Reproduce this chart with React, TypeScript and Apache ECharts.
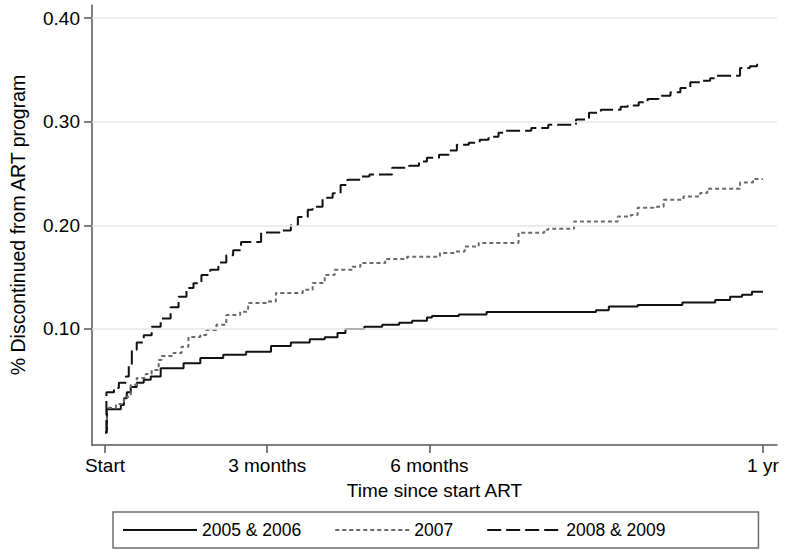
import React, { useEffect, useRef } from "react";
import * as echarts from "echarts";

// Time in days since start of ART, cumulative proportion discontinued
const days0506 = [0, 1.1, 8.8, 10.5, 12.1, 14.3, 17.6, 21.5, 25.4, 30.9, 43.6, 52.9, 65.6, 78.3, 92.1, 103.1, 113.6, 121.9, 129, 133.4, 143.9, 153.8, 163.2, 170.4, 178.6, 181.4, 196.3, 211.7, 272.4, 279.5, 295.5, 320.3, 338.5, 346.8, 353.4, 358.9, 365];
const vals0506 = [0, 0.0225, 0.0266, 0.033, 0.039, 0.044, 0.048, 0.051, 0.054, 0.062, 0.067, 0.072, 0.075, 0.078, 0.0836, 0.087, 0.09, 0.092, 0.096, 0.1, 0.102, 0.104, 0.106, 0.108, 0.111, 0.1125, 0.114, 0.1164, 0.118, 0.1216, 0.123, 0.1254, 0.128, 0.131, 0.133, 0.136, 0.136];

const days2007 = [0, 1.1, 6.1, 10.5, 14.3, 17.6, 22.6, 25.9, 29.8, 31.4, 38, 42.5, 46.3, 52.9, 56.2, 61.8, 67.3, 75, 79.4, 89.3, 94.8, 109.7, 115.2, 121.9, 127.4, 137.3, 141.7, 155.5, 167.6, 185.8, 194.1, 199.6, 207.3, 229.4, 243.7, 245.9, 260.2, 284.5, 291.7, 295.5, 304.3, 309.9, 320.9, 330.2, 334.1, 352.3, 359.5, 365];
const vals2007 = [0, 0.024, 0.0275, 0.0346, 0.046, 0.0527, 0.0565, 0.0604, 0.07, 0.0739, 0.0768, 0.0829, 0.0923, 0.0942, 0.099, 0.104, 0.1135, 0.1167, 0.125, 0.1264, 0.1348, 0.1377, 0.1444, 0.152, 0.157, 0.16, 0.1636, 0.1676, 0.1696, 0.1734, 0.1747, 0.1795, 0.183, 0.1928, 0.1957, 0.1966, 0.2037, 0.2085, 0.21, 0.217, 0.218, 0.2246, 0.2278, 0.2311, 0.2353, 0.2414, 0.2446, 0.2446];

const days0809 = [0, 0.8, 5, 7.7, 11.6, 13.2, 14.9, 17.6, 21.5, 25.9, 30.9, 36.4, 40.8, 45.2, 49.1, 53.5, 58.4, 62.9, 67.3, 71.1, 75.5, 86.6, 97, 103.1, 107, 112.5, 115.2, 120.7, 126.3, 130.7, 134.5, 141.7, 146.7, 159.3, 168.7, 174.2, 178.6, 185.3, 190.8, 195.2, 201.8, 207.9, 212.8, 218.3, 221.6, 236.5, 245.9, 261.3, 268.5, 275.1, 286.1, 290, 296.1, 301, 307.1, 313.7, 319.2, 324.7, 330.2, 335.7, 338.5, 352.3, 357.8, 361.7, 365];
const vals0809 = [0, 0.039, 0.043, 0.048, 0.054, 0.065, 0.08, 0.087, 0.094, 0.102, 0.11, 0.121, 0.131, 0.1396, 0.144, 0.152, 0.157, 0.164, 0.171, 0.176, 0.184, 0.193, 0.195, 0.2, 0.208, 0.215, 0.218, 0.2265, 0.231, 0.239, 0.244, 0.247, 0.249, 0.2555, 0.2575, 0.2615, 0.2652, 0.268, 0.2723, 0.2778, 0.2797, 0.2826, 0.2855, 0.2894, 0.2913, 0.294, 0.297, 0.302, 0.3087, 0.3116, 0.3145, 0.3157, 0.3187, 0.322, 0.325, 0.3283, 0.3325, 0.338, 0.3396, 0.342, 0.3444, 0.3519, 0.3535, 0.355, 0.355];

const seriesNames = ["2005 & 2006", "2007", "2008 & 2009"];
const xTickValues = [0, 90, 180, 365];
const xTickLabels = ["Start", "3 months", "6 months", "1 yr"];
const yTickValues = [0.1, 0.2, 0.3, 0.4];

const FONT = "'Liberation Sans', Arial, Helvetica, sans-serif";

const zip = (xs: number[], ys: number[]) => xs.map((x, i) => [x, ys[i]]);

export default function App() {
  const ref = useRef<HTMLDivElement>(null);
  useEffect(() => {
    document.body.style.margin = "0";
    const chart = echarts.init(ref.current!, null, { renderer: "svg" });
    chart.setOption({
      animation: false,
      backgroundColor: "#fff",
      grid: { left: 88, right: 8, top: 5, bottom: 112, containLabel: false },
      xAxis: {
        type: "value",
        min: -7.2,
        max: 372.8,
        name: "Time since start ART",
        nameLocation: "middle",
        nameGap: 36,
        nameTextStyle: { fontFamily: FONT, fontSize: 19, color: "#000" },
        axisLine: { show: true, onZero: false, lineStyle: { color: "#555", width: 1.5 } },
        axisTick: { show: true, length: 8, customValues: xTickValues, lineStyle: { color: "#555", width: 1.5 } },
        axisLabel: {
          customValues: xTickValues,
          margin: 11,
          fontFamily: FONT,
          fontSize: 19,
          color: "#000",
          formatter: (v: number) => {
            const i = xTickValues.indexOf(v);
            return i >= 0 ? xTickLabels[i] : "";
          },
        },
        splitLine: { show: false },
      },
      yAxis: {
        type: "value",
        min: -0.012,
        max: 0.4126,
        name: "% Discontinued from ART program",
        nameLocation: "middle",
        nameRotate: 90,
        nameGap: 64,
        nameTextStyle: { fontFamily: FONT, fontSize: 19.5, color: "#000" },
        axisLine: { show: true, onZero: false, lineStyle: { color: "#555", width: 1.5 } },
        axisTick: { show: true, length: 8, customValues: yTickValues, lineStyle: { color: "#555", width: 1.5 } },
        axisLabel: {
          customValues: yTickValues,
          margin: 12,
          fontFamily: FONT,
          fontSize: 19,
          color: "#000",
          formatter: (v: number) => v.toFixed(2),
        },
        splitLine: { show: false },
      },
      legend: {
        data: seriesNames,
        left: 113,
        top: 512,
        orient: "horizontal",
        padding: [9, 93, 9, 9],
        itemWidth: 74,
        itemHeight: 14,
        itemGap: 33,
        borderColor: "#6e6e6e",
        borderWidth: 1.5,
        itemStyle: { opacity: 0 },
        textStyle: { fontFamily: FONT, fontSize: 17.5, color: "#000" },
      },
      series: [
        {
          name: "grid",
          type: "line",
          data: [],
          symbol: "none",
          silent: true,
          z: 1,
          markLine: {
            silent: true,
            symbol: ["none", "none"],
            label: { show: false },
            lineStyle: { color: "#e6e6e6", type: "solid", width: 1.5 },
            data: yTickValues.map((v) => ({ yAxis: v })),
          },
        },
        {
          name: seriesNames[0],
          type: "line",
          step: "end",
          symbol: "none",
          z: 3,
          data: zip(days0506, vals0506),
          lineStyle: { color: "#111", width: 2, type: "solid" },
          itemStyle: { color: "#111" },
        },
        {
          name: seriesNames[1],
          type: "line",
          step: "end",
          symbol: "none",
          z: 3,
          data: zip(days2007, vals2007),
          lineStyle: { color: "#6a6a6a", width: 2, type: [4, 3] },
          itemStyle: { color: "#6a6a6a" },
        },
        {
          name: seriesNames[2],
          type: "line",
          step: "end",
          symbol: "none",
          z: 3,
          data: zip(days0809, vals0809),
          lineStyle: { color: "#111", width: 2, type: [14, 5] },
          itemStyle: { color: "#111" },
        },
      ],
    });
    return () => chart.dispose();
  }, []);
  return <div ref={ref} style={{ width: 785, height: 557 }} />;
}
